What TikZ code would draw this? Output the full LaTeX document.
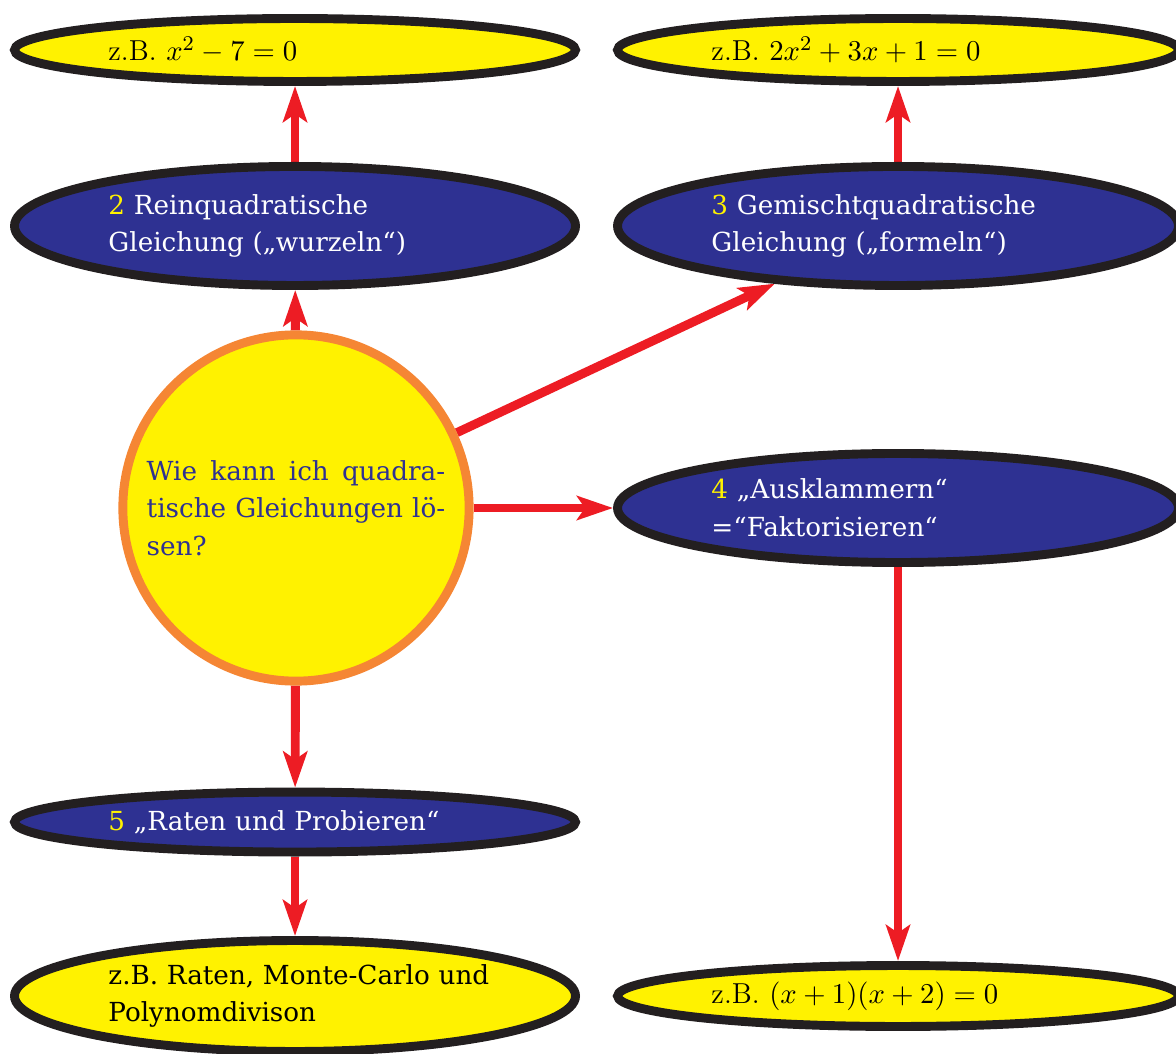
\documentclass[tikz,border=0pt]{standalone}
\usepackage{fontspec}
\usepackage{amsmath}
\usepackage{tikz}
\usetikzlibrary{shapes.geometric,arrows.meta}
\newfontfamily\dejavu{DejaVu Serif}
\definecolor{mapyellow}{HTML}{FFF200}
\definecolor{mapblue}{HTML}{2E3192}
\definecolor{maporange}{HTML}{F58634}
\definecolor{mapred}{HTML}{ED1C24}
\definecolor{mapblack}{HTML}{231F20}
\pgfdeclarelayer{bg}
\pgfsetlayers{bg,main}

\begin{document}
\begin{tikzpicture}[
        every node/.style={inner sep=0pt},
        method/.style={ellipse, draw=mapblack, line width=3.4pt, fill=mapblue, text=white,
                minimum width=7.517cm, text width=5cm, align=left,
                font=\dejavu\fontsize{10}{14.4}\selectfont},
        example/.style={ellipse, draw=mapblack, line width=3.4pt, fill=mapyellow, text=black,
                minimum width=7.517cm, text width=5cm, align=left,
                font=\fontsize{11}{14.4}\selectfont},
        question/.style={circle, draw=maporange, line width=3.4pt, fill=mapyellow, text=mapblue,
                minimum size=4.64cm, text width=4cm, align=justify,
                font=\dejavu\fontsize{10}{14.4}\selectfont},
        flow/.style={draw=mapred, line width=3.4pt, -{Stealth[length=13.7pt,width=9.1pt,inset=3pt]}},
]
        \useasboundingbox (0cm, 0cm) rectangle (15.758cm, 14.110cm);
        \node (q) [question] at (3.966cm, 7.303cm) {Wie kann ich quadra-\linebreak tische Gleichungen lö-\linebreak sen?};
        \node (rein) [method, minimum height=1.595cm] at (3.953cm, 11.082cm) {\textcolor{mapyellow}{2} Reinquadratische\\Gleichung („wurzeln“)};
        \node (reinex) [example, minimum height=0.844cm] at (3.953cm, 13.440cm) {z.B. $x^2-7=0$};
        \node (gem) [method, minimum height=1.595cm] at (12.033cm, 11.082cm) {\textcolor{mapyellow}{3} Gemischtquadratische\\Gleichung („formeln“)};
        \node (gemex) [example, minimum height=0.844cm] at (12.033cm, 13.440cm) {z.B. $2x^2+3x+1=0$};
        \node (fak) [method, minimum height=1.461cm] at (12.033cm, 7.303cm) {\textcolor{mapyellow}{4} „Ausklammern“\\=“Faktorisieren“};
        \node (fakex) [example, minimum height=0.817cm] at (12.033cm, 0.764cm) {z.B. $(x+1)(x+2)=0$};
        \node (rat) [method, minimum height=0.804cm] at (3.953cm, 3.095cm) {\textcolor{mapyellow}{5} „Raten und Probieren“};
        \node (ratex) [example, minimum height=1.487cm, font=\dejavu\fontsize{10}{14.4}\selectfont] at (3.953cm, 0.764cm) {\mbox{z.B. Raten, Monte-Carlo und}\\Polynomdivison};
        \begin{pgfonlayer}{bg}
                \draw (q) edge [flow] (rein);
                \draw (rein) edge [flow] (reinex);
                \draw (q) edge [flow] (gem);
                \draw (gem) edge [flow] (gemex);
                \draw (q) edge [flow] (fak);
                \draw (fak) edge [flow] (fakex);
                \draw (q) edge [flow] (rat);
                \draw (rat) edge [flow] (ratex);
        \end{pgfonlayer}
\end{tikzpicture}
\end{document}
